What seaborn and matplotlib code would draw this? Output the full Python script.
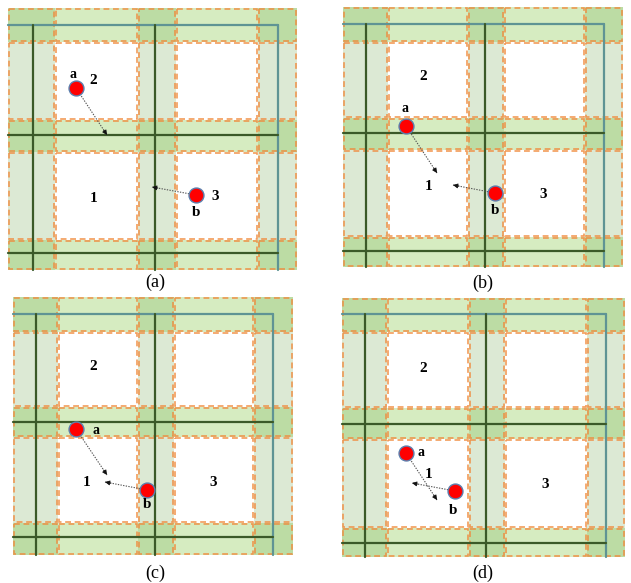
import numpy as np
import pandas as pd
import matplotlib
matplotlib.use("Agg")
import matplotlib.pyplot as plt
import matplotlib.patches as mpatches
import seaborn as sns

## panel captions
captions = ["(a)", "(b)", "(c)", "(d)"]
caption_pos = [(155, 282), (483, 283), (155, 573), (483, 573)]

## block edges of every panel (pixel coords): band / cell / band / cell / band
x_edges = [[8, 55, 138, 176, 258, 297],
           [343, 388, 468, 504, 585, 623],
           [13, 58, 138, 174, 254, 293],
           [342, 387, 469, 505, 587, 625]]
y_edges = [[8, 42, 120, 152, 240, 270],
           [7, 42, 118, 150, 237, 267],
           [297, 332, 407, 437, 523, 555],
           [298, 332, 408, 439, 528, 557]]

## centre lines of the bands
v_lines = [[33, 155, 278], [366, 485, 604], [36, 155, 273], [365, 486, 606]]
h_lines = [[25, 135, 253], [24, 133, 251], [314, 422, 537], [314, 424, 543]]

## nodes a and b and where they move to
node_a = [(76, 88), (406, 126), (76, 429), (406, 453)]
node_b = [(196, 195), (495, 193), (147, 490), (455, 491)]
target_a = [(107, 135), (437, 173), (107, 475), (437, 500)]
target_b = [(152, 187), (453, 185), (105, 482), (412, 483)]

## labels
label_a = [(73, 74), (405, 108), (96, 430), (421, 453)]
label_b = [(196, 212), (495, 211), (147, 505), (453, 510)]
label_1 = [(94, 199), (429, 187), (87, 482), (429, 475)]
label_2 = [(93, 80), (423, 77), (93, 367), (423, 368)]
label_3 = [(215, 196), (543, 194), (213, 482), (545, 485)]

## colours
h_band = "#d6ecc1"
v_band = "#dce9d4"
cross = "#bcdca4"
dash_col = "#f08a3c"
line_dark = "#3b5a28"
line_teal = "#5f9494"

sns.set_theme(style="white")
plt.rcParams["font.family"] = ["Liberation Serif", "DejaVu Serif"]

fig = plt.figure(figsize=(6.31, 5.83), dpi=100)
ax = fig.add_axes([0, 0, 1, 1])

for p in range(4):
    xs = x_edges[p]
    ys = y_edges[p]
    ## filled blocks
    for i in range(5):
        for j in range(5):
            band_col = (j % 2 == 0)
            band_row = (i % 2 == 0)
            if band_col and band_row:
                fc = cross
            elif band_row:
                fc = h_band
            elif band_col:
                fc = v_band
            else:
                fc = "white"
            ax.add_patch(mpatches.Rectangle((xs[j], ys[i]), xs[j + 1] - xs[j], ys[i + 1] - ys[i],
                                            facecolor=fc, edgecolor="none", zorder=1))
    ## dashed outline of each block
    for i in range(5):
        for j in range(5):
            ax.add_patch(mpatches.Rectangle((xs[j] + 1, ys[i] + 1), xs[j + 1] - xs[j] - 2, ys[i + 1] - ys[i] - 2,
                                            facecolor="none", edgecolor=dash_col, lw=1.2,
                                            linestyle=(0, (3.5, 2.2)), alpha=0.85, zorder=2))
    ## lines
    vl = v_lines[p]
    hl = h_lines[p]
    ax.plot([xs[0], vl[2]], [hl[0], hl[0]], color=line_teal, lw=1.6, zorder=3)
    ax.plot([vl[2], vl[2]], [hl[0], ys[5]], color=line_teal, lw=1.6, zorder=3)
    for x in vl[:2]:
        ax.plot([x, x], [hl[0], ys[5]], color=line_dark, lw=1.6, zorder=3)
    for y in hl[1:]:
        ax.plot([xs[0], vl[2]], [y, y], color=line_dark, lw=1.6, zorder=3)

    ## moves: dotted shaft plus small filled head
    for start, end in [(node_a[p], target_a[p]), (node_b[p], target_b[p])]:
        s = np.array(start, float)
        e = np.array(end, float)
        d = (e - s) / np.linalg.norm(e - s)
        s0 = s + d * 7
        ax.plot([s0[0], e[0]], [s0[1], e[1]], color="#555555", lw=0.8,
                linestyle=(0, (1.2, 1.2)), zorder=4)
        h0 = e - d * 6
        ax.annotate("", xy=tuple(e), xytext=tuple(h0),
                    arrowprops=dict(arrowstyle="-|>", color="#111111", lw=0.6,
                                    shrinkA=0, shrinkB=0, mutation_scale=7), zorder=4)

    ## text
    for lab, pos, fs in [("a", label_a[p], 10), ("b", label_b[p], 11), ("1", label_1[p], 11),
                         ("2", label_2[p], 11), ("3", label_3[p], 11)]:
        ax.text(pos[0], pos[1], lab, ha="center", va="center", fontsize=fs,
                fontweight="bold", color="black", zorder=6)
    ax.text(caption_pos[p][0], caption_pos[p][1], captions[p], ha="center", va="center",
            fontsize=13, color="black", zorder=6)

## nodes
nodes = pd.DataFrame({"x": [n[0] for n in node_a + node_b],
                      "y": [n[1] for n in node_a + node_b]})
sns.scatterplot(data=nodes, x="x", y="y", ax=ax, s=115, color="#ff0000",
                edgecolor="#5b7fae", linewidth=1.0, zorder=5, legend=False)
ax.set_xlim(0, 631)
ax.set_ylim(583, 0)
ax.axis("off")

fig.savefig("out.png", dpi=100)
